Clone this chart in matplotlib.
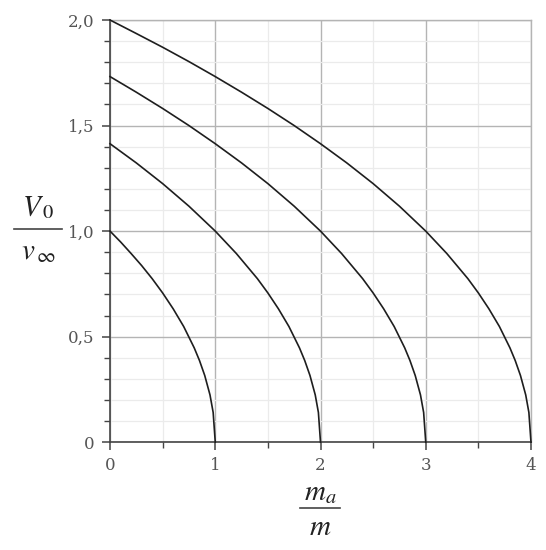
import matplotlib.pyplot as plt
from matplotlib.lines import Line2D
from matplotlib.ticker import MultipleLocator

plt.rcParams['mathtext.fontset'] = 'stix'

# values (V0/v_inf against m_a/m), one curve per end point
x1 = [0, 0.1, 0.2, 0.3, 0.4, 0.5, 0.6, 0.7, 0.8, 0.85, 0.9, 0.95, 0.98, 1.0]
y1 = [1.0, 0.949, 0.894, 0.837, 0.775, 0.707, 0.632, 0.548, 0.447, 0.387, 0.316, 0.224, 0.141, 0]
x2 = [0, 0.25, 0.5, 0.75, 1.0, 1.2, 1.4, 1.5, 1.6, 1.7, 1.8, 1.85, 1.9, 1.95, 1.98, 2.0]
y2 = [1.414, 1.323, 1.225, 1.118, 1.0, 0.894, 0.775, 0.707, 0.632, 0.548, 0.447, 0.387, 0.316, 0.224, 0.141, 0]
x3 = [0, 0.25, 0.5, 0.75, 1.0, 1.25, 1.5, 1.75, 2.0, 2.2, 2.4, 2.5, 2.6, 2.7, 2.8, 2.85, 2.9, 2.95, 2.98, 3.0]
y3 = [1.732, 1.658, 1.581, 1.5, 1.414, 1.323, 1.225, 1.118, 1.0, 0.894, 0.775, 0.707, 0.632, 0.548, 0.447, 0.387, 0.316, 0.224, 0.141, 0]
x4 = [0, 0.25, 0.5, 0.75, 1.0, 1.25, 1.5, 1.75, 2.0, 2.25, 2.5, 2.75, 3.0, 3.2, 3.4, 3.5, 3.6, 3.7, 3.8, 3.85, 3.9, 3.95, 3.98, 4.0]
y4 = [2.0, 1.936, 1.871, 1.803, 1.732, 1.658, 1.581, 1.5, 1.414, 1.323, 1.225, 1.118, 1.0, 0.894, 0.775, 0.707, 0.632, 0.548, 0.447, 0.387, 0.316, 0.224, 0.141, 0]

xticks = [0, 1, 2, 3, 4]
yticks = [0, 0.5, 1.0, 1.5, 2.0]
ytick_labels = ['0', '0,5', '1,0', '1,5', '2,0']

fig = plt.figure(figsize=(5.46, 5.50), dpi=100)
ax = fig.add_axes([0.2015, 0.196, 0.771, 0.7676])

for xs, ys in [(x1, y1), (x2, y2), (x3, y3), (x4, y4)]:
    ax.plot(xs, ys, color='#1e1e1e', lw=1.2, clip_on=False, zorder=3)

ax.set_xlim(0, 4)
ax.set_ylim(0, 2)
ax.set_xticks(xticks)
ax.set_xticklabels([str(t) for t in xticks])
ax.set_yticks(yticks)
ax.set_yticklabels(ytick_labels)
ax.xaxis.set_minor_locator(MultipleLocator(0.5))
ax.yaxis.set_minor_locator(MultipleLocator(0.1))

# grid: darker majors, faint minors
ax.grid(True, which='major', color='#b4b4b4', lw=1.0)
ax.grid(True, which='minor', color='#ebebeb', lw=0.9)
ax.set_axisbelow(True)

for side in ['top', 'right']:
    ax.spines[side].set_color('#b4b4b4')
    ax.spines[side].set_linewidth(1.0)
for side in ['left', 'bottom']:
    ax.spines[side].set_color('#444444')
    ax.spines[side].set_linewidth(1.2)

ax.tick_params(which='major', length=6, width=1.1, color='#444444',
               labelsize=12, labelcolor='#555555', pad=5)
ax.tick_params(which='minor', length=4, width=1.0, color='#444444')
for lab in ax.get_xticklabels() + ax.get_yticklabels():
    lab.set_family('DejaVu Serif')

# fraction-style axis labels, drawn as numerator / bar / denominator
W, H = 546, 550
def frac(cx, cy, top, bottom, half, dtop, dbot):
    fig.text(cx / W, 1 - (cy - dtop) / H, top, fontsize=21, ha='center',
             va='center', color='#222222')
    fig.text(cx / W, 1 - (cy + dbot) / H, bottom, fontsize=21, ha='center',
             va='center', color='#222222')
    fig.add_artist(Line2D([(cx - half) / W, (cx + half) / W],
                          [1 - cy / H, 1 - cy / H], color='#444444', lw=1.2))

frac(38, 229, r'$V_{\,0}$', r'$v_{\,\infty}$', 24, 22, 22)
frac(320, 508, r'$m_a$', r'$m$', 20, 16, 19)

fig.savefig('out.png', dpi=100)
